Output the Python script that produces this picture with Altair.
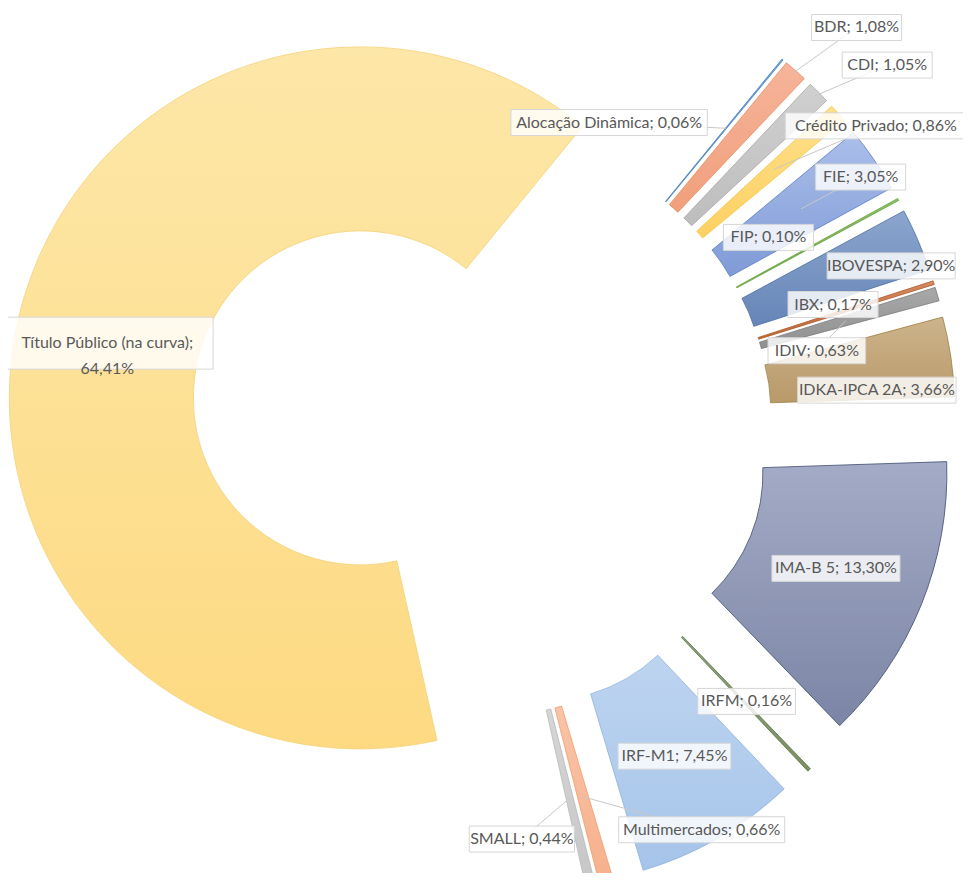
import math
import altair as alt
import pandas as pd

# ---- data ----
categories = ["Alocação Dinâmica", "BDR", "CDI", "Crédito Privado", "FIE", "FIP",
              "IBOVESPA", "IBX", "IDIV", "IDKA-IPCA 2A", "IMA-B 5", "IRFM",
              "IRF-M1", "Multimercados", "SMALL", "Título Público (na curva)"]
values = [0.06, 1.08, 1.05, 0.86, 3.05, 0.10, 2.90, 0.17, 0.63, 3.66,
          13.30, 0.16, 7.45, 0.66, 0.44, 64.41]

# ---- styles ----
fill_top = ["#7fb0de", "#f6b49a", "#d0d0d0", "#ffe08a", "#abbfea", "#8cc06a",
            "#8ba5cd", "#d58a63", "#a8a8a8", "#cdb48b", "#a3abc6", "#8fa27b",
            "#bdd4f0", "#f9c4a8", "#d6d6d6", "#fde7a8"]
fill_bottom = ["#5a90c8", "#f09f7c", "#bdbdbd", "#fdd062", "#7f9ad6", "#70ad47",
               "#6686b8", "#c0683a", "#909090", "#b8996a", "#7c85a5", "#7a8f63",
               "#a6c4e9", "#f6b08b", "#c6c6c6", "#fdda82"]
strokes = ["#4a7fbf", "#ec8c62", "#a8a8a8", "#f5c445", "#5a7ec8", "#6aa343",
           "#4a6ea5", "#b05a2a", "#7a7a7a", "#9d7d45", "#3e4d70", "#5e7548",
           "#8cb3e0", "#f29c6e", "#b7b7b7", "#f5d27a"]

# ---- label layout (offsets from each slice's mid point, leader radius) ----
label_dx = [-115, 122, 134, 107, 63, -49, 58, -13, -32, 17, 0, 1, 2, 119, -48, -1]
label_dy = [-8, -112, -92, -48, -34, -6, -10, -6, 31, 20, -2, -2, -2, 34, 40, 5]
lead_r = [386, 472, 470, 390, 387, 0, 0, 0, 380, 0, 0, 0, 0, 384, 382, 0]

W, H = 955, 865
CX, CY = 473, 418.5
EXPLODE = 124
R_OUT, R_IN = 351, 167
RM = EXPLODE + (R_IN + R_OUT) / 2
ROT = 39.3 * math.pi / 180

labels = []
for c, v in zip(categories, values):
    pct = f"{v:.2f}".replace(".", ",") + "%"
    sep = ";\n" if c.startswith("Título") else "; "
    labels.append(c + sep + pct)
nchar = [max(len(s) for s in l.split("\n")) for l in labels]
nlines = [len(l.split("\n")) for l in labels]

df = pd.DataFrame({
    "order": list(range(len(categories))),
    "cat": categories,
    "value": values,
    "label": labels,
    "nchar": nchar,
    "nlines": nlines,
    "dx": label_dx,
    "dy": label_dy,
    "lead_r": lead_r,
})

base = alt.Chart(df).transform_joinaggregate(
    total="sum(value)"
).transform_window(
    cum="sum(value)", sort=[alt.SortField("order", order="ascending")], frame=[None, 0]
).transform_calculate(
    start="(datum.cum - datum.value) / datum.total",
    end="datum.cum / datum.total",
    mid=f"{ROT} + PI * (2 * datum.cum - datum.value) / datum.total",
).transform_calculate(
    cx=f"{CX} + {EXPLODE} * sin(datum.mid)",
    cy=f"{CY} - {EXPLODE} * cos(datum.mid)",
    ax=f"{CX} + {RM} * sin(datum.mid)",
    ay=f"{CY} - {RM} * cos(datum.mid)",
    px=f"{CX} + datum.lead_r * sin(datum.mid)",
    py=f"{CY} - datum.lead_r * cos(datum.mid)",
).transform_calculate(
    lx="datum.ax + datum.dx",
    ly="datum.ay + datum.dy",
    bw="datum.nchar * 7.6 + 14",
    bh="datum.nlines * 26",
).transform_calculate(
    bx1="datum.lx - datum.bw / 2",
    bx2="datum.lx + datum.bw / 2",
    by1="datum.ly - datum.bh / 2",
    by2="datum.ly + datum.bh / 2",
)

theta_scale = alt.Scale(domain=[0, 1], range=[ROT, ROT + 2 * math.pi])

layers = []
for i, c in enumerate(categories):
    grad = alt.Gradient(
        gradient="linear",
        stops=[alt.GradientStop(offset=0, color=fill_top[i]),
               alt.GradientStop(offset=1, color=fill_bottom[i])],
        x1=0, x2=0, y1=0, y2=1,
    )
    layers.append(
        base.transform_filter(alt.datum.cat == c).mark_arc(
            innerRadius=R_IN, outerRadius=R_OUT, fill=grad,
            stroke=strokes[i], strokeWidth=0.8,
        ).encode(
            x=alt.X("cx:Q", scale=None, axis=None),
            y=alt.Y("cy:Q", scale=None, axis=None),
            theta=alt.Theta("start:Q", scale=theta_scale, stack=None),
            theta2=alt.Theta2("end:Q"),
        )
    )

leaders = base.transform_filter(alt.datum.lead_r > 0).mark_rule(
    color="#c8c8c8", strokeWidth=1
).encode(
    x=alt.X("px:Q", scale=None, axis=None),
    y=alt.Y("py:Q", scale=None, axis=None),
    x2="lx:Q",
    y2="ly:Q",
)

boxes = base.mark_rect(
    fill="white", fillOpacity=0.82, stroke="#d6d6d6", strokeWidth=1
).encode(
    x=alt.X("bx1:Q", scale=None, axis=None),
    x2="bx2:Q",
    y=alt.Y("by1:Q", scale=None, axis=None),
    y2="by2:Q",
)

texts = base.mark_text(
    font="Lato", fontSize=16, color="#595959", align="center",
    baseline="middle", lineBreak="\n", lineHeight=26,
).encode(
    x=alt.X("lx:Q", scale=None, axis=None),
    y=alt.Y("ly:Q", scale=None, axis=None),
    text="label:N",
)

chart = alt.layer(*layers, leaders, boxes, texts).properties(
    width=W, height=H, padding=0,
    autosize=alt.AutoSizeParams(type="none"),
).configure_view(stroke=None)

chart.save("out.html", embed_options={"renderer": "svg", "actions": False})
